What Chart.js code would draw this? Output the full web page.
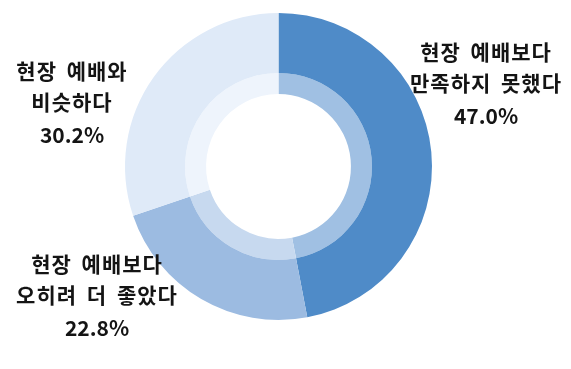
<!DOCTYPE html>
<html>
<head>
<meta charset="utf-8">
<script src="https://cdn.jsdelivr.net/npm/chart.js@4"></script>
<style>
  html, body { margin: 0; padding: 0; background: #fff; }
  #wrap { width: 571px; height: 369px; position: relative; }
</style>
</head>
<body>
<div id="wrap"><canvas id="chartCanvas" width="571" height="369"></canvas></div>
<script>
// data
const categories = ['현장 예배보다 만족하지 못했다', '현장 예배보다 오히려 더 좋았다', '현장 예배와 비슷하다'];
const shares = [47.0, 22.8, 30.2];
const labelLines = [
  ['현장 예배보다', '만족하지 못했다'],
  ['현장 예배보다', '오히려 더 좋았다'],
  ['현장 예배와', '비슷하다']
];

// styles
const outerColors = ['#4f8bc8', '#9cbbe1', '#dfeaf8'];
const innerColors = ['#a0c0e3', '#c7d9ef', '#eef4fc'];
// label anchor (center x, first line y) per slice
const labelPos = [[486, 52], [97, 264], [72, 71]];

const labelPlugin = {
  id: 'sliceLabels',
  afterDraw(chart) {
    const ctx = chart.ctx;
    ctx.save();
    ctx.fillStyle = '#141414';
    ctx.textAlign = 'center';
    ctx.textBaseline = 'middle';
    ctx.font = 'bold 21px "Noto Sans CJK KR", "Noto Sans", sans-serif';
    labelLines.forEach((lines, i) => {
      const [x, y] = labelPos[i];
      ctx.letterSpacing = '1px';
      ctx.wordSpacing = '4px';
      lines.forEach((t, j) => ctx.fillText(t, x, y + j * 31));
      // percent line without extra spacing
      ctx.letterSpacing = '0px';
      ctx.wordSpacing = '0px';
      ctx.fillText(shares[i].toFixed(1) + '%', x, y + lines.length * 31 + 2);
    });
    ctx.restore();
  }
};

const chartCanvas = document.getElementById('chartCanvas');
new Chart(chartCanvas, {
  type: 'doughnut',
  data: {
    labels: categories,
    datasets: [
      { data: shares, backgroundColor: outerColors, borderWidth: 0, weight: 60 },
      { data: shares, backgroundColor: innerColors, borderWidth: 0, weight: 21 }
    ]
  },
  options: {
    responsive: false,
    animation: false,
    cutout: '47.2%',
    layout: { padding: { left: 125, right: 139, top: 13, bottom: 49 } },
    plugins: { legend: { display: false }, tooltip: { enabled: false } }
  },
  plugins: [labelPlugin]
});
</script>
</body>
</html>
